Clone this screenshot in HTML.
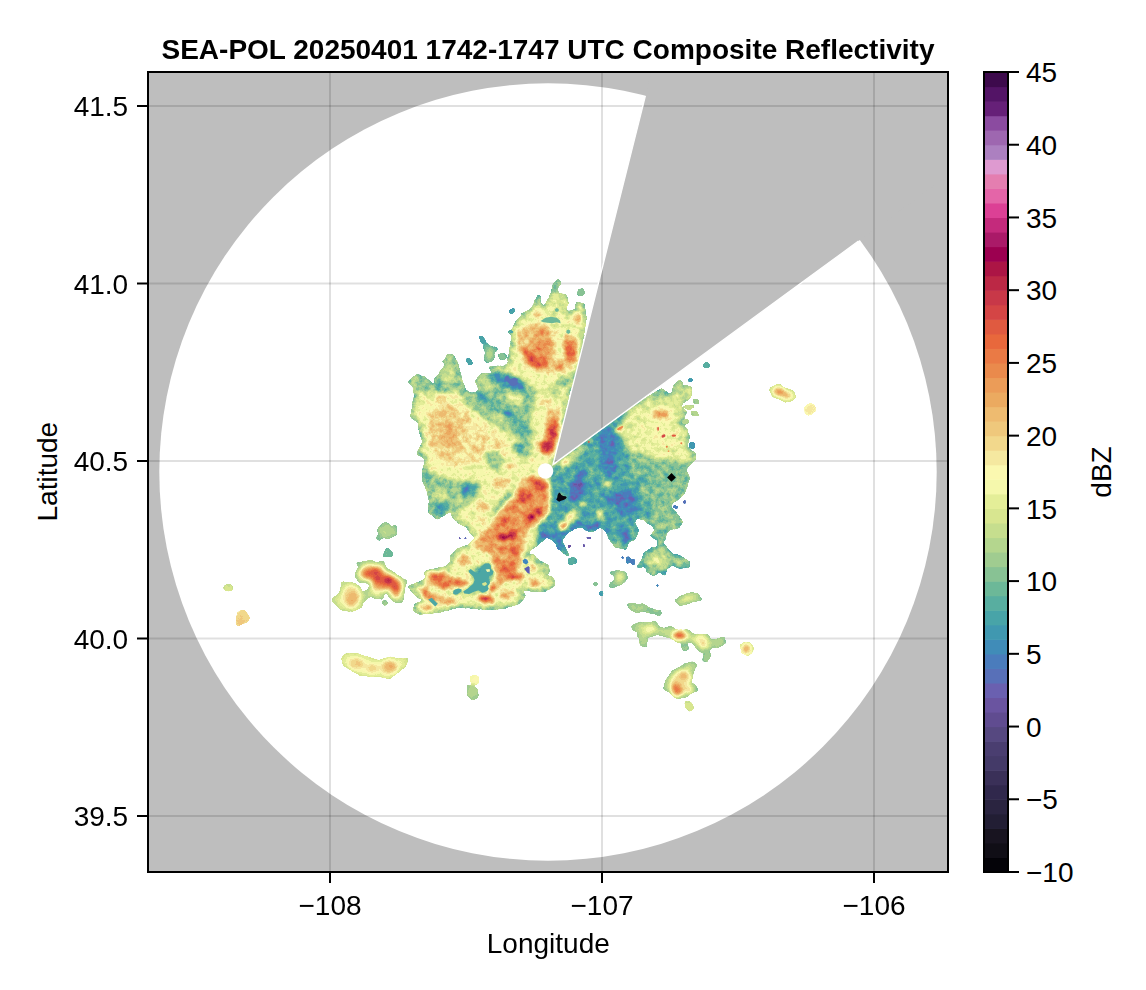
<!DOCTYPE html>
<html lang="en"><head><meta charset="utf-8"><title>SEA-POL Composite Reflectivity</title>
<style>html,body{margin:0;padding:0;background:#fff;}body{width:1146px;height:990px;overflow:hidden;}svg{display:block;}text{font-family:"Liberation Sans",sans-serif;font-size:28px;fill:#000;}</style></head><body>
<svg width="1146" height="990" viewBox="0 0 1146 990">
<defs>
<clipPath id="plotclip"><rect x="148" y="72" width="800" height="800"/></clipPath>

<filter id="cmap" x="210" y="250" width="660" height="490" filterUnits="userSpaceOnUse" color-interpolation-filters="sRGB">
  <feGaussianBlur in="SourceGraphic" stdDeviation="2.2" result="bv"/>
  <feComponentTransfer in="bv" result="bvo"><feFuncA type="linear" slope="200" intercept="0"/></feComponentTransfer>
  <feTurbulence type="fractalNoise" baseFrequency="0.17" numOctaves="3" seed="7" result="noise"/>
  <feColorMatrix in="noise" type="matrix" values="1 0 0 0 0  1 0 0 0 0  1 0 0 0 0  0 0 0 0 1" result="ng"/>
  <feComposite in="bvo" in2="ng" operator="arithmetic" k1="0" k2="1" k3="0.15" k4="-0.075" result="vn"/>
  <feComponentTransfer in="vn" result="col">
    <feFuncR type="discrete" tableValues="0.0157 0.0627 0.0941 0.1333 0.1647 0.1882 0.2275 0.2667 0.2902 0.3373 0.3765 0.4157 0.4157 0.3451 0.2902 0.2510 0.2510 0.2824 0.3451 0.4235 0.5333 0.6275 0.7059 0.7765 0.8471 0.8941 0.9608 0.9843 0.9608 0.9490 0.9373 0.9333 0.9216 0.9216 0.9176 0.9176 0.9098 0.8784 0.8314 0.7843 0.7373 0.6745 0.6118 0.6667 0.7686 0.8627 0.8941 0.8941 0.8706 0.6745 0.6196 0.5451 0.4000 0.3255 0.2392"/>
    <feFuncG type="discrete" tableValues="0.0118 0.0549 0.0784 0.1176 0.1412 0.1569 0.1882 0.2275 0.2431 0.2824 0.2980 0.3294 0.3765 0.4392 0.4863 0.5490 0.5961 0.6431 0.6824 0.7216 0.7608 0.8000 0.8392 0.8706 0.9020 0.9333 0.9725 0.9725 0.9098 0.8471 0.7843 0.7333 0.6667 0.6118 0.5412 0.4784 0.4078 0.3529 0.2706 0.2196 0.1569 0.0824 0.0000 0.1020 0.1647 0.2510 0.3961 0.4941 0.6039 0.5020 0.4039 0.2941 0.1255 0.0784 0.0392"/>
    <feFuncB type="discrete" tableValues="0.0314 0.0863 0.1255 0.2039 0.2510 0.2980 0.3451 0.4078 0.4392 0.5020 0.5647 0.6275 0.6902 0.7216 0.7373 0.7216 0.6902 0.6588 0.6275 0.5961 0.5804 0.5647 0.5569 0.5569 0.5647 0.5961 0.6745 0.6902 0.6275 0.5490 0.4863 0.4392 0.3765 0.3451 0.2980 0.2706 0.2353 0.2510 0.2706 0.2824 0.2706 0.2706 0.3137 0.4078 0.4863 0.5843 0.6588 0.6902 0.8157 0.7529 0.6902 0.6275 0.4706 0.4000 0.2980"/>
    <feFuncA type="linear" slope="0" intercept="1"/>
  </feComponentTransfer>
  <feGaussianBlur in="SourceAlpha" stdDeviation="1.1" result="ba"/>
  <feTurbulence type="fractalNoise" baseFrequency="0.2" numOctaves="2" seed="11" result="noise2"/>
  <feColorMatrix in="noise2" type="matrix" values="0 0 0 0 0  0 0 0 0 0  0 0 0 0 0  1 0 0 0 0" result="na"/>
  <feComposite in="ba" in2="na" operator="arithmetic" k1="0" k2="1" k3="0.5" k4="-0.25" result="ban"/>
  <feComponentTransfer in="ban" result="m"><feFuncA type="linear" slope="30" intercept="-14.5"/></feComponentTransfer>
  <feComposite in="col" in2="m" operator="in"/>
</filter>
<filter id="cmapc" x="210" y="250" width="660" height="490" filterUnits="userSpaceOnUse" color-interpolation-filters="sRGB">
  <feGaussianBlur in="SourceGraphic" stdDeviation="2.0" result="bv"/>
  <feComponentTransfer in="bv" result="bvo"><feFuncA type="linear" slope="200" intercept="0"/></feComponentTransfer>
  <feTurbulence type="fractalNoise" baseFrequency="0.17" numOctaves="3" seed="7" result="noise"/>
  <feColorMatrix in="noise" type="matrix" values="1 0 0 0 0  1 0 0 0 0  1 0 0 0 0  0 0 0 0 1" result="ng"/>
  <feComposite in="bvo" in2="ng" operator="arithmetic" k1="0" k2="1" k3="0.03" k4="-0.015" result="vn"/>
  <feComponentTransfer in="vn" result="col">
    <feFuncR type="discrete" tableValues="0.0157 0.0627 0.0941 0.1333 0.1647 0.1882 0.2275 0.2667 0.2902 0.3373 0.3765 0.4157 0.4157 0.3451 0.2902 0.2510 0.2510 0.2824 0.3451 0.4235 0.5333 0.6275 0.7059 0.7765 0.8471 0.8941 0.9608 0.9843 0.9608 0.9490 0.9373 0.9333 0.9216 0.9216 0.9176 0.9176 0.9098 0.8784 0.8314 0.7843 0.7373 0.6745 0.6118 0.6667 0.7686 0.8627 0.8941 0.8941 0.8706 0.6745 0.6196 0.5451 0.4000 0.3255 0.2392"/>
    <feFuncG type="discrete" tableValues="0.0118 0.0549 0.0784 0.1176 0.1412 0.1569 0.1882 0.2275 0.2431 0.2824 0.2980 0.3294 0.3765 0.4392 0.4863 0.5490 0.5961 0.6431 0.6824 0.7216 0.7608 0.8000 0.8392 0.8706 0.9020 0.9333 0.9725 0.9725 0.9098 0.8471 0.7843 0.7333 0.6667 0.6118 0.5412 0.4784 0.4078 0.3529 0.2706 0.2196 0.1569 0.0824 0.0000 0.1020 0.1647 0.2510 0.3961 0.4941 0.6039 0.5020 0.4039 0.2941 0.1255 0.0784 0.0392"/>
    <feFuncB type="discrete" tableValues="0.0314 0.0863 0.1255 0.2039 0.2510 0.2980 0.3451 0.4078 0.4392 0.5020 0.5647 0.6275 0.6902 0.7216 0.7373 0.7216 0.6902 0.6588 0.6275 0.5961 0.5804 0.5647 0.5569 0.5569 0.5647 0.5961 0.6745 0.6902 0.6275 0.5490 0.4863 0.4392 0.3765 0.3451 0.2980 0.2706 0.2353 0.2510 0.2706 0.2824 0.2706 0.2706 0.3137 0.4078 0.4863 0.5843 0.6588 0.6902 0.8157 0.7529 0.6902 0.6275 0.4706 0.4000 0.2980"/>
    <feFuncA type="linear" slope="0" intercept="1"/>
  </feComponentTransfer>
  <feGaussianBlur in="SourceAlpha" stdDeviation="1.1" result="ba"/>
  <feTurbulence type="fractalNoise" baseFrequency="0.2" numOctaves="2" seed="11" result="noise2"/>
  <feColorMatrix in="noise2" type="matrix" values="0 0 0 0 0  0 0 0 0 0  0 0 0 0 0  1 0 0 0 0" result="na"/>
  <feComposite in="ba" in2="na" operator="arithmetic" k1="0" k2="1" k3="0.3" k4="-0.15" result="ban"/>
  <feComponentTransfer in="ban" result="m"><feFuncA type="linear" slope="30" intercept="-14.5"/></feComponentTransfer>
  <feComposite in="col" in2="m" operator="in"/>
</filter>
<clipPath id="nowedge"><path clip-rule="evenodd" d="M100,0 H1000 V900 H100 Z M553.6,464.9 L646.0,96.2 L1000,96 L1000,138 Z"/></clipPath>
<clipPath id="outl"><polygon points="557.9,280.5 559.7,283.1 555.3,287.5 557.9,294.4 565.8,296.2 566.7,303.2 564.0,310.1 570.2,313.6 576.3,310.1 577.1,303.2 583.2,304.9 585.0,318.9 582.4,336.3 576.3,367.7 568.4,392.2 557.9,441.9 553.6,461.2 600.0,428.0 661.2,390.1 671.7,396.2 675.2,385.7 680.4,381.3 682.2,387.5 690.0,387.5 690.0,396.2 682.2,402.3 678.7,406.6 685.7,411.9 682.2,417.1 685.7,422.4 680.4,425.8 685.7,429.3 688.3,436.3 685.7,446.8 694.4,453.8 694.4,459.0 688.3,464.2 684.8,469.5 688.3,478.2 684.8,488.7 683.9,492.2 676.9,499.1 671.7,502.6 669.1,506.2 676.1,514.9 681.4,521.9 677.9,527.1 669.1,528.9 664.8,532.4 663.9,539.3 658.7,539.3 651.7,535.8 656.9,530.6 653.4,525.4 648.2,521.9 643.0,517.5 635.1,517.5 633.4,523.6 637.7,530.6 634.2,538.5 627.3,541.1 625.5,548.1 616.8,546.3 611.6,541.1 608.1,532.4 602.8,527.1 597.6,526.2 592.4,530.6 587.1,529.7 581.9,525.4 574.9,527.1 566.2,532.4 560.9,539.3 564.4,549.8 567.9,555.0 559.2,548.1 558.3,547.2 556.6,541.1 547.0,535.8 540.0,539.3 546.6,535.4 537.9,543.2 530.0,548.5 525.7,555.4 532.6,555.4 539.6,562.4 547.5,565.9 548.3,571.1 544.9,576.4 552.7,579.0 553.6,585.1 544.9,590.3 532.6,590.3 525.7,588.6 520.4,590.3 523.9,595.6 518.7,602.6 504.7,606.9 487.3,608.7 473.3,606.9 457.6,606.0 440.1,611.3 419.2,613.0 414.0,609.5 415.7,605.2 426.2,599.9 417.5,595.6 409.6,586.9 417.5,584.2 426.2,579.9 426.2,572.0 436.6,569.4 447.1,567.7 452.4,560.7 451.5,556.3 457.6,550.2 467.2,546.7 473.3,542.3 477.7,538.0 471.6,532.8 467.2,525.8 459.3,522.3 454.1,517.0 452.4,510.1 442.8,514.4 437.5,517.9 429.7,511.8 430.5,501.3 428.8,490.9 423.6,480.4 423.6,473.4 426.2,461.2 424.4,456.8 418.3,453.3 423.6,442.0 420.1,428.8 419.2,421.8 412.2,416.6 413.1,407.9 415.7,395.7 414.0,386.1 409.6,381.7 417.5,375.6 424.4,378.2 433.2,386.1 437.5,383.4 434.9,379.9 441.0,379.1 437.5,376.5 443.6,374.7 441.0,372.1 444.5,367.7 447.1,365.1 443.6,360.8 448.9,360.8 447.1,356.4 451.5,355.5 455.8,361.6 457.6,367.7 461.1,381.7 465.4,392.2 473.3,394.8 480.3,390.4 476.8,380.8 482.0,374.7 497.7,374.7 492.5,371.2 490.8,367.7 504.7,366.9 509.9,364.2 509.1,357.3 511.7,346.8 513.4,335.4 509.6,332.0 513.4,331.1 516.1,322.4 522.2,318.0 523.0,313.6 528.3,311.9 534.4,307.5 535.3,302.3 538.7,296.2 539.6,304.0 545.7,308.4 548.3,301.4 552.7,292.7 553.6,285.7"/><polygon points="662.2,539.3 663.0,544.6 667.4,549.8 672.6,555.0 679.6,556.8 688.3,562.0 689.2,566.4 679.6,567.3 672.6,563.8 665.7,569.0 664.8,574.2 658.7,570.8 653.4,575.1 647.3,570.8 646.5,565.5 637.7,566.4 643.0,560.3 644.7,553.3 651.7,548.9 658.7,547.2 658.7,539.3"/></clipPath>
<clipPath id="outlc"><polygon points="610.7,572.5 618.5,571.6 625.5,573.4 626.4,578.6 620.3,583.8 610.7,587.3 610.7,583.8 616.8,580.3 615.0,575.1"/><polygon points="568.8,559.4 574.9,558.5 575.8,562.0 569.7,563.8"/><polygon points="628.1,604.8 632.5,603.9 637.7,605.7 643.0,604.8 648.2,608.3 653.4,610.0 653.4,612.6 648.2,611.8 643.0,610.0 637.7,611.8 632.5,610.0"/><polygon points="656.1,611.2 660.1,611.2 660.1,614.4 656.9,614.4"/><polygon points="676.1,600.4 683.1,596.1 691.8,593.4 697.9,595.2 700.6,599.5 693.6,600.4 686.6,603.0 679.6,604.8"/><polygon points="632.5,626.6 639.5,623.1 648.2,624.0 655.2,622.2 658.7,628.3 665.7,629.2 670.9,627.5 676.1,631.0 688.3,631.0 693.6,635.3 707.5,635.3 710.2,640.6 716.3,640.6 723.2,637.9 725.0,642.3 718.0,646.7 711.9,645.8 708.4,650.2 702.3,651.9 697.1,647.5 693.6,641.4 686.6,641.4 677.9,641.4 670.9,637.1 663.9,635.3 656.9,633.6 651.7,635.3 646.5,637.1 645.6,645.8 641.2,644.9 640.3,637.9 637.7,635.3 640.3,631.0 634.2,630.1"/><polygon points="682.2,645.8 685.7,644.0 687.5,648.4 684.0,650.2"/><polygon points="626.4,556.8 629.9,556.8 629.9,562.9 626.4,563.8"/><polygon points="631.6,559.4 635.1,559.4 635.1,564.6 631.6,564.6"/><polygon points="621.2,556.4 623.8,556.4 623.8,558.9 621.2,558.9"/><polygon points="600.2,591.7 602.5,591.7 602.5,595.2 600.2,595.2"/><polygon points="594.1,582.6 596.7,582.6 596.7,585.6 594.1,585.6"/><polygon points="656.1,584.4 658.7,584.4 658.7,586.8 656.1,586.8"/><polygon points="683.1,500.6 686.2,500.6 686.2,503.6 683.1,503.6"/><polygon points="672.6,505.3 677.9,506.2 677.9,508.8 673.5,507.9"/><polygon points="586.2,536.7 591.5,537.6 591.5,539.3 586.2,538.5"/><polygon points="567.9,544.9 571.1,544.9 571.1,547.7 567.9,547.7"/><polygon points="582.8,544.2 585.0,544.2 585.0,547.2 582.8,547.2"/><polygon points="602.0,546.8 604.2,546.8 604.2,548.6 602.0,548.6"/><polygon points="703.7,660.3 704.6,655.1 708.9,652.5 709.8,656.0 706.3,660.9"/><polygon points="682.8,644.6 685.7,644.6 687.5,649.0 684.5,649.9"/><polygon points="740.9,645.5 744.7,643.4 749.9,643.8 752.6,648.1 750.8,652.5 747.3,654.6 743.0,652.5"/><polygon points="692.4,662.6 695.8,664.7 692.4,671.7 690.6,680.4 687.1,684.8 694.1,684.8 696.7,690.0 690.6,692.6 685.4,696.1 677.5,697.9 672.3,693.5 669.7,690.9 664.4,688.3 667.1,680.4 673.2,671.7 680.1,668.2 685.4,664.7"/><polygon points="685.7,702.2 689.7,702.2 692.7,708.0 689.7,710.4 686.8,707.5"/><polygon points="770.4,389.3 774.2,386.7 779.8,385.3 784.7,389.3 792.6,391.4 794.8,397.2 791.7,399.8 785.6,401.2 780.3,398.1 773.4,396.3"/><polygon points="805.3,406.8 809.1,404.2 813.5,405.0 815.8,410.3 812.6,412.9 808.3,415.0 805.3,412.9"/><polygon points="704.1,363.2 708.8,363.2 708.8,367.0 704.1,367.0"/><polygon points="688.4,379.2 691.9,379.2 691.9,381.0 688.4,381.0"/><polygon points="693.1,399.5 697.5,399.5 698.8,403.3 694.8,403.3"/><polygon points="691.3,412.0 696.6,412.0 698.3,415.5 693.1,415.5"/><polygon points="683.5,406.8 688.7,405.4 694.0,406.4 688.7,409.4"/><polygon points="690.1,443.1 694.0,443.1 694.0,447.8 690.1,447.8"/><polygon points="682.6,420.8 687.9,419.9 688.7,422.5 683.5,423.4"/><polygon points="377.6,530.5 382.8,523.5 388.1,523.5 389.8,527.0 395.9,526.1 395.9,534.8 389.8,537.5 381.1,537.5 379.3,540.1 376.7,537.5 380.2,534.0"/><polygon points="383.2,555.8 387.2,547.9 392.4,554.0 392.4,556.3 383.7,556.3"/><polygon points="357.5,563.6 370.6,561.5 377.6,563.6 382.8,561.9 385.4,568.9 391.6,572.4 396.8,575.8 402.0,579.3 405.5,581.1 403.8,589.8 402.0,596.8 402.0,601.2 395.0,601.2 389.8,596.8 388.1,591.6 382.8,593.3 382.0,597.7 375.8,597.7 370.6,595.0 363.6,600.3 361.9,596.8 363.6,593.3 369.7,589.8 370.6,584.6 365.4,581.1 360.1,582.0 355.8,575.8 357.5,570.6 361.0,567.1"/><polygon points="342.7,582.8 353.2,583.7 359.3,587.2 361.0,593.3 365.4,595.0 361.9,602.0 361.0,606.4 353.2,609.9 342.7,609.9 334.0,602.0 333.1,599.4 340.9,593.3 341.8,587.2"/><polygon points="383.2,601.2 386.8,601.2 386.8,604.6 383.2,604.6"/><polygon points="342.7,657.9 346.2,654.4 356.6,654.4 363.6,657.0 372.4,659.6 379.3,661.4 389.8,657.9 398.5,659.6 407.3,659.6 403.8,666.6 396.8,671.8 389.8,677.9 382.8,676.2 375.8,675.3 368.9,675.3 360.1,674.5 351.4,669.2 344.4,664.9"/><polygon points="471.0,676.2 477.9,676.2 477.9,683.2 474.5,684.4 471.0,681.4"/><polygon points="467.5,685.8 472.7,686.1 477.1,690.2 477.9,696.3 473.6,699.8 468.3,696.3"/><polygon points="458.7,537.1 460.5,537.1 460.5,539.5 458.7,539.5"/><polygon points="464.5,537.1 466.6,537.1 466.6,539.5 464.5,539.5"/><polygon points="224.4,586.4 228.4,584.8 232.8,586.4 232.8,589.4 228.4,590.8 224.4,589.4"/><polygon points="237.5,613.4 241.9,610.8 245.7,611.7 246.8,615.2 249.2,616.9 248.0,620.8 242.8,623.0 238.4,625.7 236.1,623.0 237.5,619.5"/><polygon points="509.6,310.5 514.3,308.7 514.3,311.9 510.8,313.6"/><polygon points="578.4,290.1 582.4,289.2 584.6,292.3 582.4,295.3 578.4,295.3"/><polygon points="479.4,336.3 482.9,337.2 485.5,342.4 482.0,342.9"/><polygon points="483.8,346.8 487.3,345.0 492.5,348.5 496.0,347.7 496.3,350.3 492.5,352.0 493.4,357.3 490.8,360.8 486.4,361.6 484.6,357.3 487.3,352.9"/><polygon points="498.6,354.6 503.0,353.4 506.5,355.5 504.7,359.0 500.3,359.4"/><polygon points="466.3,359.0 469.8,359.0 472.4,363.4 468.9,364.6"/><polygon points="509.6,331.1 512.6,331.4 511.7,333.2"/></clipPath>

</defs>
<rect x="0" y="0" width="1146" height="990" fill="#ffffff"/>
<g clip-path="url(#plotclip)">
<rect x="148" y="72" width="800" height="800" fill="#bebebe"/>
<circle cx="548" cy="472" r="388.7" fill="#ffffff"/>
<polygon points="553,464.5 645.4,95.8 700.8,-125.4 1041.8,106.9 858.5,241" fill="#bebebe"/>
<line x1="330" y1="72" x2="330" y2="872" stroke="#000" stroke-opacity="0.12" stroke-width="2"/>
<line x1="602" y1="72" x2="602" y2="872" stroke="#000" stroke-opacity="0.12" stroke-width="2"/>
<line x1="874" y1="72" x2="874" y2="872" stroke="#000" stroke-opacity="0.12" stroke-width="2"/>
<line x1="148" y1="106.0" x2="948" y2="106.0" stroke="#000" stroke-opacity="0.12" stroke-width="2"/>
<line x1="148" y1="283.5" x2="948" y2="283.5" stroke="#000" stroke-opacity="0.12" stroke-width="2"/>
<line x1="148" y1="461.0" x2="948" y2="461.0" stroke="#000" stroke-opacity="0.12" stroke-width="2"/>
<line x1="148" y1="638.5" x2="948" y2="638.5" stroke="#000" stroke-opacity="0.12" stroke-width="2"/>
<line x1="148" y1="816.0" x2="948" y2="816.0" stroke="#000" stroke-opacity="0.12" stroke-width="2"/>
<g clip-path="url(#nowedge)">
<g filter="url(#cmap)">
<polygon points="557.9,280.5 559.7,283.1 555.3,287.5 557.9,294.4 565.8,296.2 566.7,303.2 564.0,310.1 570.2,313.6 576.3,310.1 577.1,303.2 583.2,304.9 585.0,318.9 582.4,336.3 576.3,367.7 568.4,392.2 557.9,441.9 553.6,461.2 600.0,428.0 661.2,390.1 671.7,396.2 675.2,385.7 680.4,381.3 682.2,387.5 690.0,387.5 690.0,396.2 682.2,402.3 678.7,406.6 685.7,411.9 682.2,417.1 685.7,422.4 680.4,425.8 685.7,429.3 688.3,436.3 685.7,446.8 694.4,453.8 694.4,459.0 688.3,464.2 684.8,469.5 688.3,478.2 684.8,488.7 683.9,492.2 676.9,499.1 671.7,502.6 669.1,506.2 676.1,514.9 681.4,521.9 677.9,527.1 669.1,528.9 664.8,532.4 663.9,539.3 658.7,539.3 651.7,535.8 656.9,530.6 653.4,525.4 648.2,521.9 643.0,517.5 635.1,517.5 633.4,523.6 637.7,530.6 634.2,538.5 627.3,541.1 625.5,548.1 616.8,546.3 611.6,541.1 608.1,532.4 602.8,527.1 597.6,526.2 592.4,530.6 587.1,529.7 581.9,525.4 574.9,527.1 566.2,532.4 560.9,539.3 564.4,549.8 567.9,555.0 559.2,548.1 558.3,547.2 556.6,541.1 547.0,535.8 540.0,539.3 546.6,535.4 537.9,543.2 530.0,548.5 525.7,555.4 532.6,555.4 539.6,562.4 547.5,565.9 548.3,571.1 544.9,576.4 552.7,579.0 553.6,585.1 544.9,590.3 532.6,590.3 525.7,588.6 520.4,590.3 523.9,595.6 518.7,602.6 504.7,606.9 487.3,608.7 473.3,606.9 457.6,606.0 440.1,611.3 419.2,613.0 414.0,609.5 415.7,605.2 426.2,599.9 417.5,595.6 409.6,586.9 417.5,584.2 426.2,579.9 426.2,572.0 436.6,569.4 447.1,567.7 452.4,560.7 451.5,556.3 457.6,550.2 467.2,546.7 473.3,542.3 477.7,538.0 471.6,532.8 467.2,525.8 459.3,522.3 454.1,517.0 452.4,510.1 442.8,514.4 437.5,517.9 429.7,511.8 430.5,501.3 428.8,490.9 423.6,480.4 423.6,473.4 426.2,461.2 424.4,456.8 418.3,453.3 423.6,442.0 420.1,428.8 419.2,421.8 412.2,416.6 413.1,407.9 415.7,395.7 414.0,386.1 409.6,381.7 417.5,375.6 424.4,378.2 433.2,386.1 437.5,383.4 434.9,379.9 441.0,379.1 437.5,376.5 443.6,374.7 441.0,372.1 444.5,367.7 447.1,365.1 443.6,360.8 448.9,360.8 447.1,356.4 451.5,355.5 455.8,361.6 457.6,367.7 461.1,381.7 465.4,392.2 473.3,394.8 480.3,390.4 476.8,380.8 482.0,374.7 497.7,374.7 492.5,371.2 490.8,367.7 504.7,366.9 509.9,364.2 509.1,357.3 511.7,346.8 513.4,335.4 509.6,332.0 513.4,331.1 516.1,322.4 522.2,318.0 523.0,313.6 528.3,311.9 534.4,307.5 535.3,302.3 538.7,296.2 539.6,304.0 545.7,308.4 548.3,301.4 552.7,292.7 553.6,285.7" fill="#7b7b7b" stroke="#616161" stroke-width="3.5" stroke-linejoin="round"/>
<polygon points="662.2,539.3 663.0,544.6 667.4,549.8 672.6,555.0 679.6,556.8 688.3,562.0 689.2,566.4 679.6,567.3 672.6,563.8 665.7,569.0 664.8,574.2 658.7,570.8 653.4,575.1 647.3,570.8 646.5,565.5 637.7,566.4 643.0,560.3 644.7,553.3 651.7,548.9 658.7,547.2 658.7,539.3" fill="#666666" stroke="#585858" stroke-width="3" stroke-linejoin="round"/>
<g clip-path="url(#outl)">
<polygon points="549.5,467.7 560.0,461.6 577.5,445.0 582.7,436.3 612.4,415.4 626.3,415.4 629.8,452.0 643.8,455.5 657.7,467.7 664.7,492.2 671.7,502.6 680.4,520.1 671.7,528.8 666.5,541.9 560.0,541.9 539.1,541.9" fill="#535353"/>
<polygon points="536.5,480.0 679.6,480.0 681.4,521.9 662.2,539.3 625.5,548.1 597.6,526.2 557.5,548.1 536.5,542.8" fill="#535353"/>
<polygon points="457.6,381.7 478.5,381.7 497.7,373.0 525.7,381.7 539.6,392.2 534.4,402.6 530.9,420.1 534.4,437.5 525.7,441.9 497.7,427.1 480.3,414.9 466.3,402.6 457.6,392.2" fill="#616161"/>
<polygon points="414.0,378.2 424.4,378.2 433.2,386.1 443.6,374.7 447.1,357.3 455.8,361.6 461.1,381.7 452.4,392.2 434.9,392.2 417.5,392.2" fill="#616161"/>
<ellipse cx="448.9" cy="374.7" rx="7.0" ry="10.5" fill="#6f6f6f"/>
<polygon points="476.8,392.2 483.8,390.4 494.2,397.4 501.2,406.1 511.7,411.4 522.2,418.3 529.1,427.1 530.0,435.8 522.2,432.3 513.4,423.6 504.7,416.6 494.2,411.4 485.5,404.4 478.5,399.1" fill="#5a5a5a"/>
<polygon points="497.7,404.4 504.7,407.9 511.7,412.2 515.2,416.6 509.9,415.7 503.0,412.2" fill="#535353"/>
<ellipse cx="507.7" cy="412.2" rx="2.1" ry="2.1" fill="#383838"/>
<ellipse cx="522.2" cy="432.3" rx="3.8" ry="7.9" fill="#565656" transform="rotate(-30 522.2 432.3)"/>
<polygon points="487.3,373.0 497.7,372.1 511.7,374.7 522.2,379.9 527.4,388.7 520.4,392.2 508.2,388.7 497.7,383.4 487.3,378.2" fill="#4f4f4f"/>
<polygon points="495.1,374.7 499.5,373.8 504.7,376.5 511.7,379.1 516.9,378.2 518.7,383.4 523.9,386.9 522.2,389.5 515.2,386.9 508.2,386.1 502.1,381.7 496.0,379.1" fill="#464646"/>
<ellipse cx="482.0" cy="397.4" rx="4.4" ry="2.8" fill="#4a4a4a" transform="rotate(30 482.0 397.4)"/>
<ellipse cx="439.3" cy="384.3" rx="2.4" ry="2.4" fill="#414141"/>
<ellipse cx="487.3" cy="385.2" rx="6.1" ry="4.4" fill="#747474" transform="rotate(30 487.3 385.2)"/>
<ellipse cx="515.2" cy="399.1" rx="8.7" ry="5.2" fill="#797979" transform="rotate(35 515.2 399.1)"/>
<ellipse cx="497.7" cy="418.3" rx="7.0" ry="4.4" fill="#747474" transform="rotate(35 497.7 418.3)"/>
<ellipse cx="441.9" cy="399.1" rx="4.4" ry="4.4" fill="#868686"/>
<ellipse cx="457.6" cy="409.6" rx="4.4" ry="4.4" fill="#868686"/>
<polygon points="427.9,405.9 458.7,403.1 478.2,422.6 497.8,433.8 508.9,445.0 506.1,458.9 483.8,461.7 458.7,467.3 439.1,464.5 427.9,447.8 425.1,422.6" fill="#848484"/>
<polygon points="432.1,408.7 446.1,403.1 460.1,408.7 467.0,422.6 465.6,439.4 460.1,453.4 453.1,461.7 441.9,461.7 434.9,450.6 430.7,433.8 429.3,419.8" fill="#8b8b8b"/>
<polygon points="439.1,422.6 447.5,417.0 455.9,425.4 457.3,439.4 453.1,450.6 444.7,447.8 440.5,436.6" fill="#929292"/>
<ellipse cx="478.2" cy="447.8" rx="8.4" ry="5.6" fill="#8b8b8b" transform="rotate(20 478.2 447.8)"/>
<ellipse cx="497.8" cy="446.4" rx="5.6" ry="4.2" fill="#8b8b8b"/>
<ellipse cx="441.9" cy="398.9" rx="4.2" ry="3.5" fill="#8b8b8b"/>
<ellipse cx="562.3" cy="381.7" rx="6.1" ry="4.9" fill="#585858"/>
<ellipse cx="553.6" cy="392.2" rx="7.0" ry="4.4" fill="#666666"/>
<ellipse cx="544.9" cy="402.6" rx="7.0" ry="4.4" fill="#868686"/>
<polygon points="548.3,409.6 560.6,407.9 559.7,441.9 543.1,441.9 544.9,427.1" fill="#949494"/>
<polygon points="548.3,423.6 557.9,421.8 557.1,441.9 546.6,441.9" fill="#acacac"/>
<ellipse cx="552.2" cy="433.2" rx="3.1" ry="5.2" fill="#bebebe"/>
<polygon points="546.7,296.7 557.8,290.0 566.7,296.7 567.8,306.7 564.4,315.6 551.1,315.6 545.6,307.8" fill="#747474"/>
<polygon points="516.7,326.7 524.4,325.6 537.8,323.3 546.7,326.7 552.2,334.4 554.4,345.6 555.6,356.7 564.4,361.1 562.2,336.7 567.8,334.4 574.4,336.7 580.0,338.9 577.8,352.2 576.7,362.2 573.3,370.0 557.8,372.2 542.2,371.1 530.0,367.8 523.3,358.9 517.8,347.8 515.6,336.7" fill="#8d8d8d"/>
<polygon points="537.8,324.4 546.7,327.8 551.1,336.7 553.3,347.8 551.1,356.7 546.7,361.1 542.2,367.8 533.3,367.8 526.7,361.1 522.2,352.2 524.4,345.6 531.1,347.8 535.6,343.3 533.3,334.4 535.6,327.8" fill="#9b9b9b"/>
<polygon points="563.3,338.9 568.9,337.8 576.7,342.2 577.8,352.2 575.6,363.3 568.9,361.1 564.4,352.2" fill="#9b9b9b"/>
<polygon points="523.3,347.8 528.9,352.2 537.8,356.7 546.7,358.9 548.9,365.6 542.2,368.9 532.2,366.7 526.7,361.1 522.8,354.4" fill="#acacac"/>
<polygon points="565.6,342.2 572.2,345.6 576.7,352.2 575.6,362.2 570.0,360.0 565.6,352.2" fill="#acacac"/>
<ellipse cx="558.3" cy="367.8" rx="3.9" ry="2.0" fill="#a7a7a7"/>
<ellipse cx="531.1" cy="362.8" rx="2.8" ry="1.8" fill="#c7c7c7"/>
<ellipse cx="546.7" cy="364.4" rx="1.3" ry="2.8" fill="#b9b9b9"/>
<ellipse cx="536.7" cy="312.2" rx="2.8" ry="5.6" fill="#909090" transform="rotate(25 536.7 312.2)"/>
<ellipse cx="577.8" cy="318.9" rx="3.6" ry="6.7" fill="#929292"/>
<ellipse cx="525.6" cy="328.9" rx="4.4" ry="2.8" fill="#8d8d8d"/>
<polygon points="555.6,323.3 560.2,323.3 560.9,355.0 556.1,355.0" fill="#7d7d7d"/>
<ellipse cx="565.6" cy="378.9" rx="5.6" ry="3.3" fill="#666666"/>
<polygon points="511.7,442.0 529.1,442.0 532.6,452.5 522.2,457.7 513.4,450.7" fill="#5d5d5d"/>
<ellipse cx="520.4" cy="448.1" rx="4.4" ry="3.1" fill="#4f4f4f"/>
<polygon points="487.3,449.0 497.7,450.7 508.2,462.9 504.7,469.9 490.8,468.2 483.8,457.7" fill="#616161"/>
<polygon points="537.9,442.0 556.2,442.0 554.5,452.5 548.3,456.8 539.6,451.6" fill="#9e9e9e"/>
<polygon points="540.5,442.0 555.3,442.0 553.6,449.9 548.3,454.2 542.2,449.9" fill="#b5b5b5"/>
<ellipse cx="548.7" cy="447.2" rx="3.1" ry="2.4" fill="#c7c7c7"/>
<polygon points="424.4,471.7 443.6,476.9 457.6,480.4 480.3,482.1 478.5,494.4 468.1,503.1 459.3,511.8 452.4,510.1 442.8,514.4 437.5,517.9 429.7,511.8 423.6,480.4" fill="#616161"/>
<ellipse cx="427.1" cy="476.0" rx="3.8" ry="4.9" fill="#535353"/>
<ellipse cx="469.8" cy="488.2" rx="8.7" ry="5.2" fill="#4f4f4f"/>
<ellipse cx="440.1" cy="494.4" rx="7.9" ry="7.0" fill="#6f6f6f"/>
<ellipse cx="457.6" cy="499.6" rx="5.2" ry="5.2" fill="#6f6f6f"/>
<ellipse cx="439.3" cy="506.9" rx="3.1" ry="3.1" fill="#3c3c3c"/>
<ellipse cx="445.7" cy="505.2" rx="2.1" ry="2.1" fill="#3c3c3c"/>
<ellipse cx="465.4" cy="491.7" rx="2.4" ry="3.5" fill="#333333" transform="rotate(40 465.4 491.7)"/>
<ellipse cx="436.6" cy="511.8" rx="7.0" ry="3.8" fill="#535353"/>
<ellipse cx="508.2" cy="464.7" rx="5.2" ry="3.5" fill="#909090"/>
<ellipse cx="497.7" cy="462.9" rx="6.1" ry="8.7" fill="#666666" transform="rotate(-30 497.7 462.9)"/>
<polygon points="532.9,475.3 543.8,476.5 550.5,484.4 549.8,501.4 549.8,511.7 543.8,519.5 536.5,525.6 529.2,529.8 525.0,538.3 523.8,550.5 520.2,562.0 517.7,572.9 512.3,579.5 500.8,580.8 494.1,575.3 492.3,566.2 489.8,558.3 484.4,551.7 474.7,548.0 469.8,542.6 479.5,535.3 485.6,529.2 492.9,522.0 497.7,512.3 503.8,505.0 512.3,497.7 517.1,490.5 520.8,482.0 527.4,476.5" fill="#8b8b8b"/>
<polygon points="532.9,477.1 542.6,478.3 548.6,484.4 547.4,492.9 549.8,501.4 548.6,511.1 542.6,518.3 535.3,524.4 528.0,528.0 523.2,537.7 522.0,549.8 518.3,560.8 515.9,571.7 511.1,577.7 501.4,578.9 495.3,574.1 494.1,565.6 491.7,557.1 485.6,549.8 475.9,546.2 472.3,542.6 480.8,536.5 486.8,530.5 494.1,523.2 498.9,513.5 505.0,506.2 513.5,498.9 518.3,491.7 522.0,483.2 528.0,478.3" fill="#9b9b9b"/>
<ellipse cx="537.1" cy="505.0" rx="7.3" ry="3.4" fill="#949494"/>
<ellipse cx="495.3" cy="542.6" rx="6.1" ry="3.0" fill="#949494"/>
<ellipse cx="505.0" cy="557.1" rx="4.8" ry="3.6" fill="#909090"/>
<polygon points="530.5,478.3 540.2,478.9 547.4,484.4 546.2,491.7 538.9,490.5 532.9,485.6" fill="#b2b2b2"/>
<polygon points="518.3,492.9 528.0,491.1 532.9,496.5 529.2,501.4 522.0,502.6 517.7,498.9" fill="#b2b2b2"/>
<ellipse cx="522.0" cy="497.1" rx="2.4" ry="3.4" fill="#c3c3c3"/>
<polygon points="525.6,517.1 530.5,513.5 537.7,507.4 543.8,506.2 542.6,511.1 536.5,515.9 532.9,520.8 528.0,523.2" fill="#b5b5b5"/>
<ellipse cx="530.5" cy="517.7" rx="2.7" ry="4.6" fill="#c7c7c7" transform="rotate(25 530.5 517.7)"/>
<ellipse cx="539.5" cy="510.5" rx="3.6" ry="1.5" fill="#c7c7c7" transform="rotate(-40 539.5 510.5)"/>
<polygon points="501.4,517.1 507.4,518.3 511.1,523.2 506.2,525.6 501.4,522.0" fill="#b0b0b0"/>
<polygon points="498.9,532.9 503.8,531.7 506.2,536.5 511.1,532.9 513.5,528.0 515.9,532.9 513.5,537.7 508.6,538.9 503.8,541.4 500.2,537.7" fill="#b9b9b9"/>
<ellipse cx="502.0" cy="535.9" rx="3.0" ry="3.6" fill="#cccccc"/>
<ellipse cx="511.7" cy="534.7" rx="2.2" ry="3.6" fill="#cccccc"/>
<polygon points="509.8,545.0 517.1,548.6 519.5,553.5 515.9,557.1 511.1,552.3" fill="#b2b2b2"/>
<polygon points="501.4,569.2 513.5,560.8 517.1,562.0 513.5,568.0 506.2,574.1 500.2,574.1" fill="#b0b0b0"/>
<polygon points="507.4,575.3 523.2,574.7 523.8,578.0 509.8,579.5" fill="#c3c3c3"/>
<ellipse cx="515.9" cy="512.3" rx="1.0" ry="3.6" fill="#b0b0b0" transform="rotate(10 515.9 512.3)"/>
<ellipse cx="505.0" cy="548.6" rx="3.6" ry="1.7" fill="#acacac" transform="rotate(30 505.0 548.6)"/>
<polygon points="492.3,512.9 495.3,505.0 501.4,498.9 508.6,492.9 513.5,488.6 515.9,491.1 509.8,497.7 503.8,503.8 497.7,509.8 494.7,514.7" fill="#5a5a5a"/>
<ellipse cx="505.0" cy="497.1" rx="4.1" ry="1.6" fill="#535353" transform="rotate(-45 505.0 497.1)"/>
<ellipse cx="501.4" cy="483.2" rx="8.5" ry="4.2" fill="#929292"/>
<ellipse cx="483.2" cy="506.2" rx="5.5" ry="4.8" fill="#929292"/>
<ellipse cx="480.8" cy="520.8" rx="3.6" ry="3.0" fill="#8b8b8b"/>
<ellipse cx="483.8" cy="557.2" rx="8.7" ry="4.4" fill="#7d7d7d" transform="rotate(-20 483.8 557.2)"/>
<polygon points="468.9,572.0 476.8,568.5 482.0,564.2 489.0,563.3 492.5,569.4 495.1,574.6 489.4,580.2 489.4,586.9 484.1,591.4 473.3,592.4 464.6,593.1 463.9,590.3 471.6,585.1 476.8,579.9 473.3,574.6" fill="#535353"/>
<polygon points="454.1,592.1 460.2,588.6 462.8,591.2 456.7,595.6" fill="#535353"/>
<polygon points="428.8,599.1 431.4,597.3 437.5,604.3 434.9,606.0" fill="#535353"/>
<ellipse cx="488.1" cy="570.8" rx="1.7" ry="1.7" fill="#797979"/>
<ellipse cx="484.6" cy="583.7" rx="1.7" ry="1.2" fill="#797979"/>
<polygon points="427.9,572.9 441.9,572.0 457.6,579.9 469.8,579.9 466.3,586.9 452.4,586.9 443.6,590.3 434.9,585.1 426.2,581.6" fill="#9e9e9e"/>
<ellipse cx="437.0" cy="576.7" rx="4.9" ry="3.5" fill="#b5b5b5"/>
<ellipse cx="458.5" cy="582.0" rx="4.2" ry="2.4" fill="#b9b9b9"/>
<ellipse cx="443.6" cy="585.1" rx="3.1" ry="3.1" fill="#b0b0b0"/>
<polygon points="419.2,590.3 431.4,592.1 445.4,599.1 457.6,599.9 452.4,604.3 434.9,604.3 422.7,599.1" fill="#999999"/>
<ellipse cx="426.2" cy="590.3" rx="3.1" ry="3.1" fill="#a7a7a7"/>
<ellipse cx="450.6" cy="601.2" rx="4.5" ry="2.1" fill="#a7a7a7"/>
<ellipse cx="464.6" cy="560.7" rx="5.6" ry="7.3" fill="#949494"/>
<ellipse cx="426.2" cy="607.8" rx="7.0" ry="3.8" fill="#949494"/>
<ellipse cx="485.9" cy="599.1" rx="9.1" ry="3.1" fill="#b5b5b5"/>
<ellipse cx="483.4" cy="599.4" rx="3.5" ry="1.4" fill="#c3c3c3"/>
<ellipse cx="492.8" cy="586.9" rx="4.2" ry="3.1" fill="#b5b5b5"/>
<ellipse cx="507.3" cy="594.7" rx="5.6" ry="4.4" fill="#999999"/>
<ellipse cx="534.4" cy="583.7" rx="4.2" ry="3.1" fill="#acacac"/>
<ellipse cx="546.9" cy="581.6" rx="5.2" ry="4.5" fill="#7d7d7d"/>
<ellipse cx="499.5" cy="581.6" rx="4.4" ry="5.2" fill="#999999"/>
<ellipse cx="533.5" cy="569.1" rx="1.7" ry="2.8" fill="#a7a7a7"/>
<ellipse cx="541.4" cy="566.8" rx="5.2" ry="4.4" fill="#666666"/>
<polygon points="628.1,452.0 643.8,453.8 657.7,460.8 673.4,458.1 699.6,464.2 699.6,492.2 685.7,509.6 692.6,527.1 673.4,541.9 654.2,541.9 654.2,513.1 642.0,495.7 631.6,476.5" fill="#5f5f5f"/>
<polygon points="657.7,389.2 671.7,396.2 661.2,404.9 650.8,401.4" fill="#5d5d5d"/>
<polygon points="615.8,429.3 629.8,414.5 643.8,404.9 657.7,397.9 671.7,397.9 682.2,387.5 690.0,387.5 690.0,396.2 680.4,408.4 683.0,422.4 686.5,436.3 683.0,448.5 673.4,457.3 657.7,460.8 643.8,453.8 629.8,452.0 623.7,439.8" fill="#747474"/>
<polygon points="626.3,429.3 636.8,417.1 650.8,408.4 664.7,404.9 675.2,410.1 678.7,422.4 682.2,436.3 678.7,446.8 668.2,453.8 654.2,455.5 642.0,448.5 631.6,446.8 628.1,438.1" fill="#797979"/>
<polygon points="649.0,413.6 657.7,408.7 668.2,410.1 671.7,415.4 663.0,419.2 654.2,418.2" fill="#949494"/>
<ellipse cx="660.3" cy="414.5" rx="4.4" ry="2.1" fill="#a2a2a2" transform="rotate(-10 660.3 414.5)"/>
<ellipse cx="619.7" cy="428.5" rx="4.4" ry="1.7" fill="#a2a2a2" transform="rotate(-30 619.7 428.5)"/>
<ellipse cx="663.3" cy="436.3" rx="2.1" ry="1.6" fill="#b0b0b0" transform="rotate(-30 663.3 436.3)"/>
<ellipse cx="673.8" cy="435.6" rx="2.4" ry="1.4" fill="#b0b0b0"/>
<ellipse cx="657.7" cy="428.6" rx="0.9" ry="2.1" fill="#acacac"/>
<ellipse cx="681.3" cy="443.3" rx="1.2" ry="1.2" fill="#a2a2a2"/>
<ellipse cx="666.8" cy="446.8" rx="1.4" ry="1.4" fill="#a2a2a2"/>
<ellipse cx="668.2" cy="455.5" rx="3.1" ry="3.1" fill="#828282"/>
<ellipse cx="679.5" cy="457.3" rx="3.5" ry="3.5" fill="#828282"/>
<ellipse cx="680.4" cy="423.2" rx="3.5" ry="1.7" fill="#414141"/>
<ellipse cx="682.2" cy="392.7" rx="5.2" ry="6.1" fill="#6b6b6b"/>
<polygon points="600.1,429.3 612.4,427.6 617.6,443.3 615.8,467.7 608.9,478.2 601.9,467.7 598.4,448.5" fill="#464646"/>
<polygon points="609.7,431.1 613.2,431.1 615.0,453.8 613.2,474.7 610.6,474.7 611.5,453.8" fill="#414141"/>
<ellipse cx="603.6" cy="453.8" rx="4.4" ry="7.0" fill="#484848"/>
<polygon points="575.7,473.0 582.7,478.2 586.2,492.2 580.1,503.5 567.0,500.9 570.5,488.7" fill="#3f3f3f"/>
<polygon points="607.1,497.4 617.6,490.4 629.8,492.2 640.3,499.1 629.8,504.7 615.8,504.7" fill="#3f3f3f"/>
<ellipse cx="582.7" cy="474.7" rx="2.4" ry="5.2" fill="#3f3f3f"/>
<ellipse cx="626.3" cy="509.6" rx="10.5" ry="6.1" fill="#464646"/>
<ellipse cx="643.8" cy="481.7" rx="8.7" ry="7.0" fill="#535353"/>
<ellipse cx="591.4" cy="474.7" rx="5.2" ry="7.0" fill="#585858"/>
<ellipse cx="594.9" cy="452.0" rx="4.4" ry="5.2" fill="#585858"/>
<ellipse cx="608.0" cy="483.8" rx="3.5" ry="2.8" fill="#868686"/>
<ellipse cx="581.8" cy="503.9" rx="3.0" ry="3.0" fill="#868686"/>
<ellipse cx="600.1" cy="514.0" rx="2.6" ry="4.5" fill="#868686"/>
<ellipse cx="643.8" cy="488.7" rx="2.1" ry="5.2" fill="#6f6f6f" transform="rotate(-30 643.8 488.7)"/>
<polygon points="560.0,459.9 582.7,443.3 586.2,448.5 570.5,464.2 560.0,473.0" fill="#6b6b6b"/>
<ellipse cx="565.2" cy="462.5" rx="6.1" ry="2.4" fill="#8b8b8b" transform="rotate(-35 565.2 462.5)"/>
<ellipse cx="588.8" cy="441.9" rx="1.2" ry="1.2" fill="#a7a7a7"/>
<ellipse cx="571.3" cy="516.9" rx="4.5" ry="7.9" fill="#7d7d7d" transform="rotate(40 571.3 516.9)"/>
<ellipse cx="571.3" cy="516.9" rx="2.6" ry="5.2" fill="#909090" transform="rotate(40 571.3 516.9)"/>
<ellipse cx="563.8" cy="525.7" rx="4.9" ry="5.2" fill="#7d7d7d"/>
<ellipse cx="563.8" cy="526.2" rx="2.8" ry="3.1" fill="#acacac"/>
<ellipse cx="625.4" cy="535.8" rx="4.4" ry="6.6" fill="#3c3c3c"/>
<ellipse cx="633.3" cy="534.0" rx="3.1" ry="3.5" fill="#5d5d5d"/>
<polygon points="540.0,532.4 547.0,530.6 557.5,537.6 560.9,532.4 574.9,523.6 581.9,521.9 587.1,526.2 592.4,527.1 597.6,522.8 602.8,523.6 608.1,528.9 606.3,532.4 597.6,529.7 592.4,532.4 587.1,532.4 581.9,529.7 574.9,530.6 566.2,535.8 562.7,542.8 566.2,553.3 557.5,548.1 547.0,539.3 540.0,541.1" fill="#3a3a3a"/>
<ellipse cx="625.2" cy="538.5" rx="3.5" ry="7.9" fill="#3f3f3f"/>
<ellipse cx="632.5" cy="535.8" rx="3.5" ry="3.5" fill="#585858"/>
<ellipse cx="588.0" cy="527.1" rx="2.4" ry="2.4" fill="#333333"/>
<ellipse cx="616.8" cy="498.3" rx="10.5" ry="4.4" fill="#3f3f3f" transform="rotate(-20 616.8 498.3)"/>
<ellipse cx="599.7" cy="514.0" rx="3.0" ry="4.2" fill="#868686" transform="rotate(20 599.7 514.0)"/>
<ellipse cx="662.2" cy="520.1" rx="14.0" ry="10.5" fill="#616161"/>
<ellipse cx="670.0" cy="519.3" rx="2.6" ry="2.6" fill="#6f6f6f"/>
<ellipse cx="658.7" cy="560.3" rx="8.7" ry="6.1" fill="#747474"/>
</g>
</g>
<g filter="url(#cmapc)">
<polygon points="610.7,572.5 618.5,571.6 625.5,573.4 626.4,578.6 620.3,583.8 610.7,587.3 610.7,583.8 616.8,580.3 615.0,575.1" fill="#747474" stroke="#5d5d5d" stroke-width="3" stroke-linejoin="round"/>
<polygon points="568.8,559.4 574.9,558.5 575.8,562.0 569.7,563.8" fill="#6f6f6f" stroke="#535353" stroke-width="3" stroke-linejoin="round"/>
<polygon points="628.1,604.8 632.5,603.9 637.7,605.7 643.0,604.8 648.2,608.3 653.4,610.0 653.4,612.6 648.2,611.8 643.0,610.0 637.7,611.8 632.5,610.0" fill="#6f6f6f" stroke="#616161" stroke-width="3" stroke-linejoin="round"/>
<polygon points="656.1,611.2 660.1,611.2 660.1,614.4 656.9,614.4" fill="#6b6b6b" stroke="#616161" stroke-width="3" stroke-linejoin="round"/>
<polygon points="676.1,600.4 683.1,596.1 691.8,593.4 697.9,595.2 700.6,599.5 693.6,600.4 686.6,603.0 679.6,604.8" fill="#797979" stroke="#616161" stroke-width="3" stroke-linejoin="round"/>
<polygon points="632.5,626.6 639.5,623.1 648.2,624.0 655.2,622.2 658.7,628.3 665.7,629.2 670.9,627.5 676.1,631.0 688.3,631.0 693.6,635.3 707.5,635.3 710.2,640.6 716.3,640.6 723.2,637.9 725.0,642.3 718.0,646.7 711.9,645.8 708.4,650.2 702.3,651.9 697.1,647.5 693.6,641.4 686.6,641.4 677.9,641.4 670.9,637.1 663.9,635.3 656.9,633.6 651.7,635.3 646.5,637.1 645.6,645.8 641.2,644.9 640.3,637.9 637.7,635.3 640.3,631.0 634.2,630.1" fill="#747474" stroke="#616161" stroke-width="3" stroke-linejoin="round"/>
<polygon points="682.2,645.8 685.7,644.0 687.5,648.4 684.0,650.2" fill="#6f6f6f" stroke="#616161" stroke-width="3" stroke-linejoin="round"/>
<polygon points="626.4,556.8 629.9,556.8 629.9,562.9 626.4,563.8" fill="#4a4a4a" stroke="#414141" stroke-width="0.8" stroke-linejoin="round"/>
<polygon points="631.6,559.4 635.1,559.4 635.1,564.6 631.6,564.6" fill="#4a4a4a" stroke="#414141" stroke-width="0.8" stroke-linejoin="round"/>
<polygon points="621.2,556.4 623.8,556.4 623.8,558.9 621.2,558.9" fill="#464646" stroke="#414141" stroke-width="0.8" stroke-linejoin="round"/>
<polygon points="600.2,591.7 602.5,591.7 602.5,595.2 600.2,595.2" fill="#585858" stroke="#4f4f4f" stroke-width="2" stroke-linejoin="round"/>
<polygon points="594.1,582.6 596.7,582.6 596.7,585.6 594.1,585.6" fill="#666666" stroke="#5d5d5d" stroke-width="2" stroke-linejoin="round"/>
<polygon points="656.1,584.4 658.7,584.4 658.7,586.8 656.1,586.8" fill="#4a4a4a" stroke="#464646" stroke-width="0.8" stroke-linejoin="round"/>
<polygon points="683.1,500.6 686.2,500.6 686.2,503.6 683.1,503.6" fill="#464646" stroke="#414141" stroke-width="0.8" stroke-linejoin="round"/>
<polygon points="672.6,505.3 677.9,506.2 677.9,508.8 673.5,507.9" fill="#464646" stroke="#414141" stroke-width="0.8" stroke-linejoin="round"/>
<polygon points="586.2,536.7 591.5,537.6 591.5,539.3 586.2,538.5" fill="#3c3c3c" stroke="#3c3c3c" stroke-width="0.8" stroke-linejoin="round"/>
<polygon points="567.9,544.9 571.1,544.9 571.1,547.7 567.9,547.7" fill="#383838" stroke="#383838" stroke-width="0.8" stroke-linejoin="round"/>
<polygon points="582.8,544.2 585.0,544.2 585.0,547.2 582.8,547.2" fill="#383838" stroke="#383838" stroke-width="0.8" stroke-linejoin="round"/>
<polygon points="602.0,546.8 604.2,546.8 604.2,548.6 602.0,548.6" fill="#383838" stroke="#383838" stroke-width="0.8" stroke-linejoin="round"/>
<polygon points="703.7,660.3 704.6,655.1 708.9,652.5 709.8,656.0 706.3,660.9" fill="#6f6f6f" stroke="#616161" stroke-width="3" stroke-linejoin="round"/>
<polygon points="682.8,644.6 685.7,644.6 687.5,649.0 684.5,649.9" fill="#6f6f6f" stroke="#616161" stroke-width="3" stroke-linejoin="round"/>
<polygon points="740.9,645.5 744.7,643.4 749.9,643.8 752.6,648.1 750.8,652.5 747.3,654.6 743.0,652.5" fill="#7d7d7d" stroke="#6f6f6f" stroke-width="3" stroke-linejoin="round"/>
<polygon points="692.4,662.6 695.8,664.7 692.4,671.7 690.6,680.4 687.1,684.8 694.1,684.8 696.7,690.0 690.6,692.6 685.4,696.1 677.5,697.9 672.3,693.5 669.7,690.9 664.4,688.3 667.1,680.4 673.2,671.7 680.1,668.2 685.4,664.7" fill="#747474" stroke="#616161" stroke-width="3" stroke-linejoin="round"/>
<polygon points="685.7,702.2 689.7,702.2 692.7,708.0 689.7,710.4 686.8,707.5" fill="#797979" stroke="#6f6f6f" stroke-width="3" stroke-linejoin="round"/>
<polygon points="770.4,389.3 774.2,386.7 779.8,385.3 784.7,389.3 792.6,391.4 794.8,397.2 791.7,399.8 785.6,401.2 780.3,398.1 773.4,396.3" fill="#8b8b8b" stroke="#6b6b6b" stroke-width="3" stroke-linejoin="round"/>
<polygon points="805.3,406.8 809.1,404.2 813.5,405.0 815.8,410.3 812.6,412.9 808.3,415.0 805.3,412.9" fill="#868686" stroke="#7d7d7d" stroke-width="2" stroke-linejoin="round"/>
<polygon points="704.1,363.2 708.8,363.2 708.8,367.0 704.1,367.0" fill="#616161" stroke="#535353" stroke-width="2" stroke-linejoin="round"/>
<polygon points="688.4,379.2 691.9,379.2 691.9,381.0 688.4,381.0" fill="#535353" stroke="#4f4f4f" stroke-width="2" stroke-linejoin="round"/>
<polygon points="693.1,399.5 697.5,399.5 698.8,403.3 694.8,403.3" fill="#6f6f6f" stroke="#616161" stroke-width="2" stroke-linejoin="round"/>
<polygon points="691.3,412.0 696.6,412.0 698.3,415.5 693.1,415.5" fill="#6f6f6f" stroke="#666666" stroke-width="2" stroke-linejoin="round"/>
<polygon points="683.5,406.8 688.7,405.4 694.0,406.4 688.7,409.4" fill="#747474" stroke="#6b6b6b" stroke-width="2" stroke-linejoin="round"/>
<polygon points="690.1,443.1 694.0,443.1 694.0,447.8 690.1,447.8" fill="#585858" stroke="#4a4a4a" stroke-width="2" stroke-linejoin="round"/>
<polygon points="682.6,420.8 687.9,419.9 688.7,422.5 683.5,423.4" fill="#6f6f6f" stroke="#666666" stroke-width="2" stroke-linejoin="round"/>
<polygon points="377.6,530.5 382.8,523.5 388.1,523.5 389.8,527.0 395.9,526.1 395.9,534.8 389.8,537.5 381.1,537.5 379.3,540.1 376.7,537.5 380.2,534.0" fill="#6b6b6b" stroke="#5d5d5d" stroke-width="2" stroke-linejoin="round"/>
<polygon points="383.2,555.8 387.2,547.9 392.4,554.0 392.4,556.3 383.7,556.3" fill="#616161" stroke="#585858" stroke-width="2" stroke-linejoin="round"/>
<polygon points="357.5,563.6 370.6,561.5 377.6,563.6 382.8,561.9 385.4,568.9 391.6,572.4 396.8,575.8 402.0,579.3 405.5,581.1 403.8,589.8 402.0,596.8 402.0,601.2 395.0,601.2 389.8,596.8 388.1,591.6 382.8,593.3 382.0,597.7 375.8,597.7 370.6,595.0 363.6,600.3 361.9,596.8 363.6,593.3 369.7,589.8 370.6,584.6 365.4,581.1 360.1,582.0 355.8,575.8 357.5,570.6 361.0,567.1" fill="#7d7d7d" stroke="#616161" stroke-width="3" stroke-linejoin="round"/>
<polygon points="342.7,582.8 353.2,583.7 359.3,587.2 361.0,593.3 365.4,595.0 361.9,602.0 361.0,606.4 353.2,609.9 342.7,609.9 334.0,602.0 333.1,599.4 340.9,593.3 341.8,587.2" fill="#797979" stroke="#6b6b6b" stroke-width="3" stroke-linejoin="round"/>
<polygon points="383.2,601.2 386.8,601.2 386.8,604.6 383.2,604.6" fill="#6b6b6b" stroke="#616161" stroke-width="2" stroke-linejoin="round"/>
<polygon points="342.7,657.9 346.2,654.4 356.6,654.4 363.6,657.0 372.4,659.6 379.3,661.4 389.8,657.9 398.5,659.6 407.3,659.6 403.8,666.6 396.8,671.8 389.8,677.9 382.8,676.2 375.8,675.3 368.9,675.3 360.1,674.5 351.4,669.2 344.4,664.9" fill="#7d7d7d" stroke="#6f6f6f" stroke-width="3" stroke-linejoin="round"/>
<polygon points="471.0,676.2 477.9,676.2 477.9,683.2 474.5,684.4 471.0,681.4" fill="#868686" stroke="#797979" stroke-width="2" stroke-linejoin="round"/>
<polygon points="467.5,685.8 472.7,686.1 477.1,690.2 477.9,696.3 473.6,699.8 468.3,696.3" fill="#6b6b6b" stroke="#616161" stroke-width="2" stroke-linejoin="round"/>
<polygon points="458.7,537.1 460.5,537.1 460.5,539.5 458.7,539.5" fill="#3c3c3c" stroke="#3c3c3c" stroke-width="0.8" stroke-linejoin="round"/>
<polygon points="464.5,537.1 466.6,537.1 466.6,539.5 464.5,539.5" fill="#3c3c3c" stroke="#3c3c3c" stroke-width="0.8" stroke-linejoin="round"/>
<polygon points="224.4,586.4 228.4,584.8 232.8,586.4 232.8,589.4 228.4,590.8 224.4,589.4" fill="#747474" stroke="#6f6f6f" stroke-width="2" stroke-linejoin="round"/>
<polygon points="237.5,613.4 241.9,610.8 245.7,611.7 246.8,615.2 249.2,616.9 248.0,620.8 242.8,623.0 238.4,625.7 236.1,623.0 237.5,619.5" fill="#8b8b8b" stroke="#868686" stroke-width="2" stroke-linejoin="round"/>
<polygon points="509.6,310.5 514.3,308.7 514.3,311.9 510.8,313.6" fill="#585858" stroke="#4f4f4f" stroke-width="2" stroke-linejoin="round"/>
<polygon points="578.4,290.1 582.4,289.2 584.6,292.3 582.4,295.3 578.4,295.3" fill="#666666" stroke="#5d5d5d" stroke-width="2" stroke-linejoin="round"/>
<polygon points="479.4,336.3 482.9,337.2 485.5,342.4 482.0,342.9" fill="#585858" stroke="#4f4f4f" stroke-width="2" stroke-linejoin="round"/>
<polygon points="483.8,346.8 487.3,345.0 492.5,348.5 496.0,347.7 496.3,350.3 492.5,352.0 493.4,357.3 490.8,360.8 486.4,361.6 484.6,357.3 487.3,352.9" fill="#6f6f6f" stroke="#585858" stroke-width="3" stroke-linejoin="round"/>
<polygon points="498.6,354.6 503.0,353.4 506.5,355.5 504.7,359.0 500.3,359.4" fill="#747474" stroke="#535353" stroke-width="2" stroke-linejoin="round"/>
<polygon points="466.3,359.0 469.8,359.0 472.4,363.4 468.9,364.6" fill="#585858" stroke="#4f4f4f" stroke-width="2" stroke-linejoin="round"/>
<polygon points="509.6,331.1 512.6,331.4 511.7,333.2" fill="#585858" stroke="#535353" stroke-width="2" stroke-linejoin="round"/>
<g clip-path="url(#outlc)">
<ellipse cx="619.4" cy="576.9" rx="3.1" ry="4.4" fill="#7d7d7d" transform="rotate(20 619.4 576.9)"/>
<ellipse cx="688.3" cy="598.3" rx="5.2" ry="1.7" fill="#828282" transform="rotate(-15 688.3 598.3)"/>
<ellipse cx="649.9" cy="628.3" rx="5.2" ry="3.1" fill="#828282"/>
<ellipse cx="679.6" cy="635.3" rx="7.3" ry="4.4" fill="#9e9e9e"/>
<ellipse cx="679.6" cy="635.3" rx="4.5" ry="2.6" fill="#b0b0b0"/>
<ellipse cx="700.6" cy="639.7" rx="7.0" ry="4.4" fill="#828282"/>
<ellipse cx="703.7" cy="644.4" rx="3.1" ry="2.4" fill="#909090"/>
<ellipse cx="746.5" cy="648.7" rx="4.2" ry="4.5" fill="#999999"/>
<ellipse cx="681.0" cy="682.2" rx="9.6" ry="12.2" fill="#868686" transform="rotate(25 681.0 682.2)"/>
<ellipse cx="683.6" cy="676.1" rx="5.2" ry="4.4" fill="#949494"/>
<ellipse cx="676.6" cy="689.1" rx="5.2" ry="7.0" fill="#9e9e9e" transform="rotate(-25 676.6 689.1)"/>
<ellipse cx="677.0" cy="690.5" rx="2.8" ry="4.5" fill="#acacac" transform="rotate(-25 677.0 690.5)"/>
<ellipse cx="689.2" cy="690.0" rx="2.8" ry="2.8" fill="#909090"/>
<ellipse cx="779.5" cy="392.0" rx="6.1" ry="3.8" fill="#9e9e9e" transform="rotate(15 779.5 392.0)"/>
<ellipse cx="788.2" cy="396.3" rx="3.8" ry="2.6" fill="#949494"/>
<ellipse cx="388.9" cy="532.2" rx="4.4" ry="3.8" fill="#6b6b6b"/>
<polygon points="361.0,568.9 372.4,565.7 381.1,567.1 384.6,572.4 393.3,575.8 401.2,581.1 402.0,589.8 398.5,596.8 393.3,596.8 388.9,589.8 381.1,589.8 375.8,589.8 372.4,586.3 370.6,579.3 363.6,578.5 360.1,574.1" fill="#999999"/>
<polygon points="364.5,570.6 374.1,568.0 380.2,571.5 384.6,575.8 395.0,579.3 400.3,586.3 396.8,591.6 389.8,586.3 381.1,586.3 375.8,582.8 372.4,577.6 365.4,575.8" fill="#acacac"/>
<ellipse cx="376.7" cy="571.0" rx="1.9" ry="1.9" fill="#c3c3c3"/>
<ellipse cx="376.2" cy="579.0" rx="1.9" ry="2.4" fill="#c3c3c3"/>
<ellipse cx="388.4" cy="579.7" rx="3.8" ry="2.6" fill="#c7c7c7"/>
<ellipse cx="395.4" cy="587.7" rx="3.1" ry="2.1" fill="#bebebe" transform="rotate(30 395.4 587.7)"/>
<ellipse cx="367.1" cy="575.5" rx="3.1" ry="1.7" fill="#b5b5b5"/>
<ellipse cx="351.4" cy="596.8" rx="8.4" ry="10.8" fill="#8b8b8b"/>
<ellipse cx="352.3" cy="598.5" rx="5.2" ry="7.3" fill="#949494" transform="rotate(20 352.3 598.5)"/>
<ellipse cx="356.6" cy="663.5" rx="7.9" ry="5.6" fill="#8d8d8d"/>
<ellipse cx="372.4" cy="668.7" rx="6.1" ry="5.2" fill="#898989"/>
<ellipse cx="389.5" cy="666.9" rx="7.9" ry="7.0" fill="#909090"/>
<ellipse cx="390.2" cy="666.2" rx="3.1" ry="2.4" fill="#9b9b9b"/>
<ellipse cx="240.5" cy="621.8" rx="3.1" ry="2.4" fill="#949494"/>
<ellipse cx="489.9" cy="354.6" rx="2.4" ry="3.8" fill="#747474"/>
</g>
</g>
<polygon points="540.6,321.1 545.6,317.8 551.1,316.7 556.7,317.8 560.0,320.6 560.6,323.3 556.7,322.2 552.2,323.3 547.8,322.8 543.3,322.2" fill="#6cb898"/>
<polygon points="556.9,308.0 558.7,309.0 558.7,311.0 556.9,312.0 555.1,311.0 555.1,309.0" fill="#6cb898"/>
<polygon points="568.3,329.4 570.2,330.6 570.2,332.8 568.3,333.9 566.4,332.8 566.4,330.6" fill="#6cb898"/>
<polygon points="505.0,376.7 507.8,375.6 510.0,378.9 514.4,377.8 517.8,378.9 517.2,383.3 514.4,386.1 511.1,385.6 507.8,382.2 505.0,380.0" fill="#5870b8"/>
<polygon points="495.6,374.4 498.3,373.3 500.0,377.8 497.8,380.0 495.6,377.8" fill="#408cb8"/>
<polygon points="517.2,385.0 522.2,385.6 523.9,388.3 518.9,388.9" fill="#4a7cbc"/>
<polygon points="522.6,560.5 524.9,558.5 527.3,559.7 528.4,562.5 526.1,564.4 523.3,562.9" fill="#3f88bf"/>
<polygon points="524.1,568.7 528.4,566.0 529.6,567.6 529.6,573.9 527.3,572.7" fill="#5c5cb4"/>
<polygon points="468.4,570.7 470.7,569.1 473.9,571.5 478.6,573.9 481.3,570.7 481.3,566.8 484.9,563.6 488.8,563.2 490.7,565.2 491.1,569.1 493.5,571.5 492.7,574.6 489.6,575.8 488.0,578.6 490.0,581.7 489.6,584.1 487.6,586.0 488.8,588.8 487.2,591.1 482.5,592.7 478.6,590.3 474.6,591.5 469.1,593.9 464.4,593.5 463.2,591.5 468.4,588.0 473.1,584.1 474.6,580.1 473.1,576.2 469.5,573.1" fill="#4ca7a4"/>
<polygon points="485.6,569.5 489.6,569.1 490.0,571.5 487.2,571.9" fill="#f5f8ac"/>
<polygon points="482.1,583.3 485.6,582.1 487.2,584.1 484.9,586.0 482.5,585.2" fill="#d8e690"/>
<polygon points="455.0,589.6 458.9,588.4 461.7,589.6 461.3,591.5 457.4,594.3 455.0,594.7 453.0,593.5 453.4,590.7" fill="#4ca7a4"/>
<polygon points="428.2,599.4 431.7,597.7 437.8,603.8 435.2,606.4" fill="#4ca7a4"/>
<ellipse cx="658.1" cy="428.8" rx="0.9" ry="2.1" fill="#e05a40"/>
<ellipse cx="663.5" cy="436.0" rx="2.1" ry="1.4" fill="#d44545" transform="rotate(-30 663.5 436.0)"/>
<ellipse cx="673.8" cy="435.6" rx="2.3" ry="1.2" fill="#e05a40"/>
<ellipse cx="681.3" cy="443.3" rx="1.0" ry="1.0" fill="#ea7a45"/>
<ellipse cx="666.8" cy="446.8" rx="1.0" ry="1.0" fill="#ea7a45"/>
<ellipse cx="668.6" cy="451.2" rx="0.9" ry="0.9" fill="#eb9c58"/>
<ellipse cx="620.2" cy="428.1" rx="3.5" ry="1.2" fill="#ea8a4c" transform="rotate(-30 620.2 428.1)"/>
<ellipse cx="588.8" cy="441.9" rx="0.9" ry="0.9" fill="#e05a40"/></g>
<path d="M645.4,95.8 L553,464.5 L858.5,241" fill="none" stroke="#fff" stroke-width="1.3"/>
<circle cx="545.5" cy="471" r="7.8" fill="#fff"/>
<polygon points="671.5,473 675.9,477.4 671.5,481.8 667.1,477.4" fill="#000"/>
<polygon points="559,492.5 560,492.9 561.4,495 563.2,496.1 565.6,496.2 566.8,497.3 565.6,498.9 563.5,500.1 560.4,500.9 559.3,501.8 557.9,501.1 556.2,499.4 557.2,497.8 557.6,495" fill="#08050d"/>

</g>
<rect x="148" y="72" width="800" height="800" fill="none" stroke="#000" stroke-width="2"/>
<line x1="330" y1="873" x2="330" y2="883" stroke="#000" stroke-width="2"/>
<text x="330" y="914.5" text-anchor="middle">−108</text>
<line x1="602" y1="873" x2="602" y2="883" stroke="#000" stroke-width="2"/>
<text x="602" y="914.5" text-anchor="middle">−107</text>
<line x1="874" y1="873" x2="874" y2="883" stroke="#000" stroke-width="2"/>
<text x="874" y="914.5" text-anchor="middle">−106</text>
<line x1="137" y1="106.0" x2="147" y2="106.0" stroke="#000" stroke-width="2"/>
<text x="128.2" y="116.4" text-anchor="end">41.5</text>
<line x1="137" y1="283.5" x2="147" y2="283.5" stroke="#000" stroke-width="2"/>
<text x="128.2" y="293.9" text-anchor="end">41.0</text>
<line x1="137" y1="461.0" x2="147" y2="461.0" stroke="#000" stroke-width="2"/>
<text x="128.2" y="471.4" text-anchor="end">40.5</text>
<line x1="137" y1="638.5" x2="147" y2="638.5" stroke="#000" stroke-width="2"/>
<text x="128.2" y="648.9" text-anchor="end">40.0</text>
<line x1="137" y1="816.0" x2="147" y2="816.0" stroke="#000" stroke-width="2"/>
<text x="128.2" y="826.4" text-anchor="end">39.5</text>
<text x="548" y="58.5" text-anchor="middle" style="font-weight:bold">SEA-POL 20250401 1742-1747 UTC Composite Reflectivity</text>
<text x="548.3" y="953" text-anchor="middle">Longitude</text>
<text transform="translate(57.2,471.7) rotate(-90)" text-anchor="middle">Latitude</text>
<rect x="984" y="857.455" width="24" height="15.145" fill="#040308"/>
<rect x="984" y="842.909" width="24" height="15.145" fill="#100e16"/>
<rect x="984" y="828.364" width="24" height="15.145" fill="#181420"/>
<rect x="984" y="813.818" width="24" height="15.145" fill="#221e34"/>
<rect x="984" y="799.273" width="24" height="15.145" fill="#2a2440"/>
<rect x="984" y="784.727" width="24" height="15.145" fill="#30284c"/>
<rect x="984" y="770.182" width="24" height="15.145" fill="#3a3058"/>
<rect x="984" y="755.636" width="24" height="15.145" fill="#443a68"/>
<rect x="984" y="741.091" width="24" height="15.145" fill="#4a3e70"/>
<rect x="984" y="726.545" width="24" height="15.145" fill="#564880"/>
<rect x="984" y="712.000" width="24" height="15.145" fill="#604c90"/>
<rect x="984" y="697.455" width="24" height="15.145" fill="#6a54a0"/>
<rect x="984" y="682.909" width="24" height="15.145" fill="#6a60b0"/>
<rect x="984" y="668.364" width="24" height="15.145" fill="#5870b8"/>
<rect x="984" y="653.818" width="24" height="15.145" fill="#4a7cbc"/>
<rect x="984" y="639.273" width="24" height="15.145" fill="#408cb8"/>
<rect x="984" y="624.727" width="24" height="15.145" fill="#4098b0"/>
<rect x="984" y="610.182" width="24" height="15.145" fill="#48a4a8"/>
<rect x="984" y="595.636" width="24" height="15.145" fill="#58aea0"/>
<rect x="984" y="581.091" width="24" height="15.145" fill="#6cb898"/>
<rect x="984" y="566.545" width="24" height="15.145" fill="#88c294"/>
<rect x="984" y="552.000" width="24" height="15.145" fill="#a0cc90"/>
<rect x="984" y="537.455" width="24" height="15.145" fill="#b4d68e"/>
<rect x="984" y="522.909" width="24" height="15.145" fill="#c6de8e"/>
<rect x="984" y="508.364" width="24" height="15.145" fill="#d8e690"/>
<rect x="984" y="493.818" width="24" height="15.145" fill="#e4ee98"/>
<rect x="984" y="479.273" width="24" height="15.145" fill="#f5f8ac"/>
<rect x="984" y="464.727" width="24" height="15.145" fill="#fbf8b0"/>
<rect x="984" y="450.182" width="24" height="15.145" fill="#f5e8a0"/>
<rect x="984" y="435.636" width="24" height="15.145" fill="#f2d88c"/>
<rect x="984" y="421.091" width="24" height="15.145" fill="#efc87c"/>
<rect x="984" y="406.545" width="24" height="15.145" fill="#eebb70"/>
<rect x="984" y="392.000" width="24" height="15.145" fill="#ebaa60"/>
<rect x="984" y="377.455" width="24" height="15.145" fill="#eb9c58"/>
<rect x="984" y="362.909" width="24" height="15.145" fill="#ea8a4c"/>
<rect x="984" y="348.364" width="24" height="15.145" fill="#ea7a45"/>
<rect x="984" y="333.818" width="24" height="15.145" fill="#e8683c"/>
<rect x="984" y="319.273" width="24" height="15.145" fill="#e05a40"/>
<rect x="984" y="304.727" width="24" height="15.145" fill="#d44545"/>
<rect x="984" y="290.182" width="24" height="15.145" fill="#c83848"/>
<rect x="984" y="275.636" width="24" height="15.145" fill="#bc2845"/>
<rect x="984" y="261.091" width="24" height="15.145" fill="#ac1545"/>
<rect x="984" y="246.545" width="24" height="15.145" fill="#9c0050"/>
<rect x="984" y="232.000" width="24" height="15.145" fill="#aa1a68"/>
<rect x="984" y="217.455" width="24" height="15.145" fill="#c42a7c"/>
<rect x="984" y="202.909" width="24" height="15.145" fill="#dc4095"/>
<rect x="984" y="188.364" width="24" height="15.145" fill="#e465a8"/>
<rect x="984" y="173.818" width="24" height="15.145" fill="#e47eb0"/>
<rect x="984" y="159.273" width="24" height="15.145" fill="#de9ad0"/>
<rect x="984" y="144.727" width="24" height="15.145" fill="#ac80c0"/>
<rect x="984" y="130.182" width="24" height="15.145" fill="#9e67b0"/>
<rect x="984" y="115.636" width="24" height="15.145" fill="#8b4ba0"/>
<rect x="984" y="101.091" width="24" height="15.145" fill="#662078"/>
<rect x="984" y="86.545" width="24" height="15.145" fill="#531466"/>
<rect x="984" y="72.000" width="24" height="15.145" fill="#3d0a4c"/>
<rect x="984" y="72" width="24" height="800" fill="none" stroke="#000" stroke-width="2"/>
<line x1="1009" y1="872.00" x2="1019" y2="872.00" stroke="#000" stroke-width="2"/>
<text x="1026" y="882.20">−10</text>
<line x1="1009" y1="799.27" x2="1019" y2="799.27" stroke="#000" stroke-width="2"/>
<text x="1026" y="809.47">−5</text>
<line x1="1009" y1="726.55" x2="1019" y2="726.55" stroke="#000" stroke-width="2"/>
<text x="1026" y="736.75">0</text>
<line x1="1009" y1="653.82" x2="1019" y2="653.82" stroke="#000" stroke-width="2"/>
<text x="1026" y="664.02">5</text>
<line x1="1009" y1="581.09" x2="1019" y2="581.09" stroke="#000" stroke-width="2"/>
<text x="1026" y="591.29">10</text>
<line x1="1009" y1="508.36" x2="1019" y2="508.36" stroke="#000" stroke-width="2"/>
<text x="1026" y="518.56">15</text>
<line x1="1009" y1="435.64" x2="1019" y2="435.64" stroke="#000" stroke-width="2"/>
<text x="1026" y="445.84">20</text>
<line x1="1009" y1="362.91" x2="1019" y2="362.91" stroke="#000" stroke-width="2"/>
<text x="1026" y="373.11">25</text>
<line x1="1009" y1="290.18" x2="1019" y2="290.18" stroke="#000" stroke-width="2"/>
<text x="1026" y="300.38">30</text>
<line x1="1009" y1="217.45" x2="1019" y2="217.45" stroke="#000" stroke-width="2"/>
<text x="1026" y="227.65">35</text>
<line x1="1009" y1="144.73" x2="1019" y2="144.73" stroke="#000" stroke-width="2"/>
<text x="1026" y="154.93">40</text>
<line x1="1009" y1="72.00" x2="1019" y2="72.00" stroke="#000" stroke-width="2"/>
<text x="1026" y="82.20">45</text>
<text transform="translate(1111,472) rotate(-90)" text-anchor="middle">dBZ</text>
</svg>
</body></html>
